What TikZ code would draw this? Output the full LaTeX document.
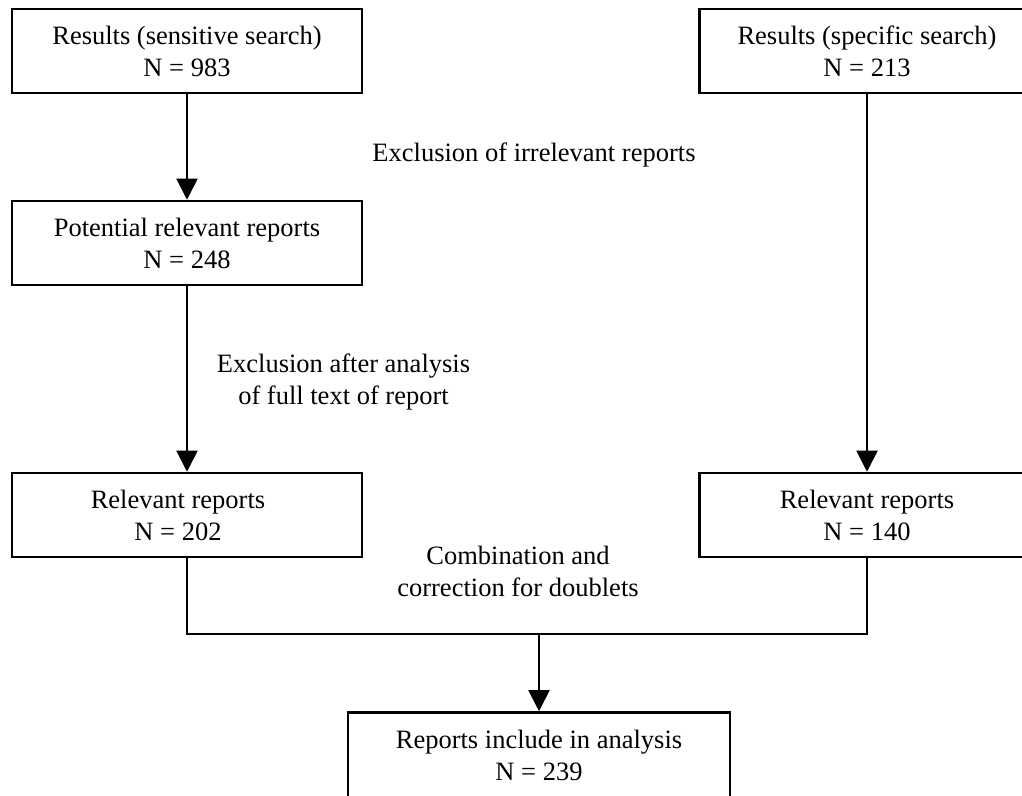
\documentclass[tikz,border=0pt]{standalone}
\usepackage{fontspec}
\setmainfont{Liberation Serif}
\usetikzlibrary{arrows.meta}
\begin{document}
\begin{tikzpicture}[x=1pt,y=-1pt,
  every node/.style={font=\fontsize{26.5}{32}\selectfont, align=center, inner sep=0pt},
  box/.style={draw, line width=2.6pt, minimum width=350pt, minimum height=84pt},
  link/.style={line width=2pt},
  arr/.style={link, -{Triangle[length=21pt,width=21pt]}}]
\useasboundingbox (0,0) rectangle (1022,795);
\clip (0,0) rectangle (1022,795);
\node[box] (b1) at (187,51) {Results (sensitive search)\\N = 983};
\node[box, minimum width=335pt] (b2) at (867,51) {Results (specific search)\\N = 213};
\node[box] (b3) at (187,243) {Potential relevant reports\\N = 248};
\node[box] (b4) at (187,515) {Relevant reports\hspace*{18pt}\\N = 202\hspace*{18pt}};
\node[box, minimum width=335pt] (b5) at (867,515) {Relevant reports\\N = 140};
\node[box, minimum width=382pt, minimum height=85pt] (b6) at (539,755) {Reports include in analysis\\N = 239};
\node (l1) at (534,155) {Exclusion of irrelevant reports};
\node (l2) at (343.5,382) {Exclusion after analysis\\of full text of report};
\node (l3) at (518,571) {Combination and\\correction for doublets};
\coordinate (j) at (539,634);
\draw[arr] (b1) -- (b3);
\draw[arr] (b3) -- (b4);
\draw[arr] (b2) -- (b5);
\draw[link] (b4.south) -- (b4.south |- j) -- (b5.south |- j) -- (b5.south);
\draw[arr] (j) -- (b6);
\end{tikzpicture}
\end{document}
